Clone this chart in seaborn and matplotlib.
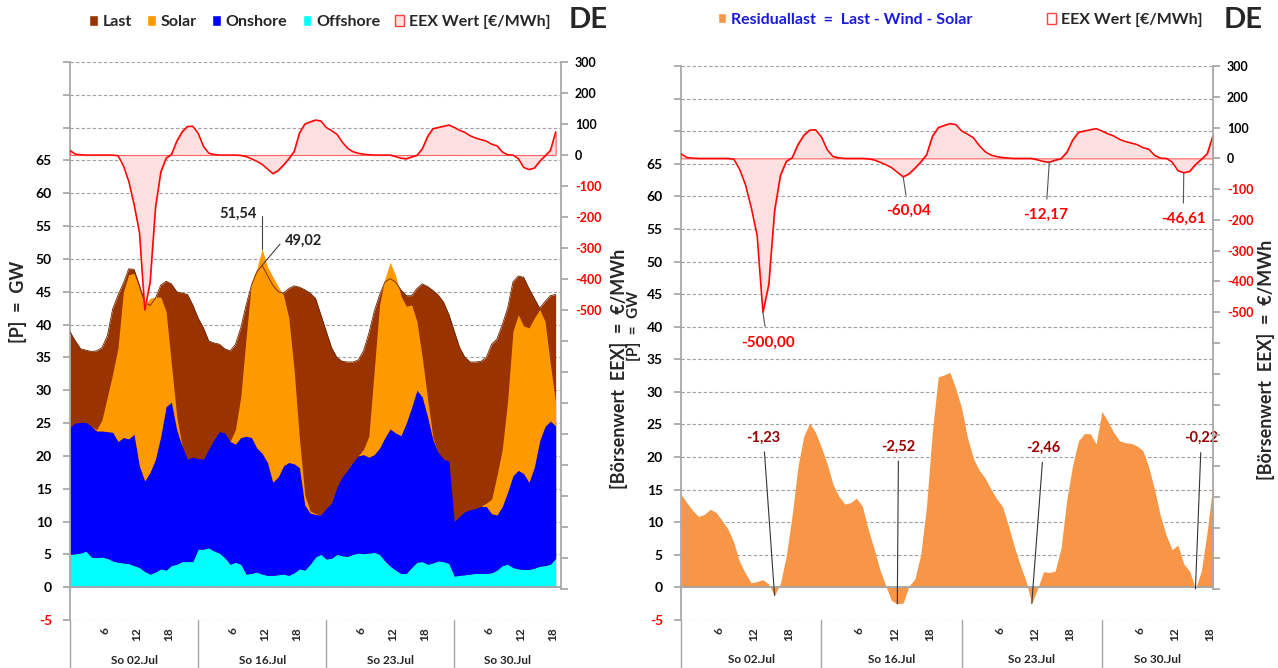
import numpy as np
import pandas as pd
import matplotlib.pyplot as plt
import matplotlib.transforms as mtransforms
from matplotlib.patches import Patch
import seaborn as sns

# hourly values, 4 Sundays (last one only up to ~19h)
day_labels = ['So 02.Jul', 'So 16.Jul', 'So 23.Jul', 'So 30.Jul']
hour_ticks = [6, 12, 18]

offshore = [5.0, 5.1, 5.2, 5.5, 4.6, 4.5, 4.6, 4.4, 4.0, 3.8, 3.7, 3.6, 3.3, 3.0, 2.4, 2.0, 2.3, 2.8, 2.6, 3.3, 3.5, 3.9, 3.9, 3.9,
            5.8, 5.8, 6.0, 5.5, 5.2, 4.5, 3.5, 3.8, 3.5, 2.0, 2.1, 2.3, 2.0, 1.8, 1.8, 1.9, 2.0, 1.8, 2.2, 2.8, 2.6, 3.5, 4.6, 5.0,
            4.3, 4.4, 5.0, 4.8, 4.7, 5.0, 5.2, 5.1, 5.2, 5.3, 5.0, 4.0, 3.2, 2.6, 2.1, 2.1, 3.0, 3.8, 3.9, 3.5, 3.7, 4.0, 3.9, 3.6,
            1.7, 1.8, 1.9, 2.0, 2.1, 2.1, 2.1, 2.2, 2.6, 3.3, 3.5, 3.0, 2.8, 2.7, 2.7, 2.9, 3.2, 3.3, 3.5, 4.4]
onshore = [19.4, 19.9, 19.9, 19.6, 19.9, 19.3, 19.2, 19.3, 19.6, 18.4, 19.1, 19.0, 20.0, 15.5, 13.8, 15.5, 17.2, 20.2, 24.9, 24.9, 20.5, 17.6, 15.6, 15.9,
           13.8, 13.7, 15.0, 17.0, 18.5, 19.0, 18.7, 18.0, 19.3, 21.0, 20.7, 18.9, 18.4, 17.2, 14.2, 14.9, 16.5, 17.2, 16.6, 15.4, 9.9, 7.8, 6.5, 6.0,
           7.7, 8.4, 10.2, 12.0, 13.1, 14.0, 14.8, 15.1, 14.6, 14.9, 16.2, 18.8, 20.9, 20.9, 21.0, 22.9, 24.4, 26.2, 25.1, 22.5, 18.8, 16.5, 15.6, 15.6,
           8.3, 9.0, 9.6, 9.8, 9.9, 10.2, 10.2, 9.0, 8.4, 9.0, 11.0, 14.0, 15.0, 14.6, 13.3, 15.4, 19.1, 21.2, 21.8, 20.2]
solar = [0, 0, 0, 0, 0, 0.2, 1.7, 5.3, 8.9, 14.3, 22.2, 25.0, 24.5, 27.0, 26.8, 26.5, 24.7, 21.2, 14.5, 5.8, 2.0, 0, 0, 0,
         0, 0, 0, 0, 0, 0, 0, 2.2, 6.2, 15.0, 23.7, 27.3, 31.14, 29.8, 31.3, 29.0, 26.0, 22.0, 14.2, 4.3, 1.5, 0.3, 0.1, 0,
         0, 0, 0, 0, 0, 0, 0, 0.8, 3.2, 12.8, 21.8, 24.2, 25.4, 24.0, 21.3, 17.8, 15.6, 10.5, 6.0, 2.7, 0.3, 0, 0, 0,
         0, 0, 0, 0, 0, 0, 0.5, 2.2, 6.0, 8.7, 13.9, 22.0, 23.7, 22.5, 23.5, 22.7, 20.0, 16.0, 8.7, 3.4]
last = [38.9, 37.5, 36.3, 36.1, 35.9, 36.0, 36.5, 38.3, 42.4, 44.5, 46.3, 48.5, 48.4, 46.0, 43.4, 42.9, 44.0, 46.0, 46.6, 46.2, 45.0, 44.8, 44.6, 43.0,
        41.0, 39.5, 37.5, 37.2, 37.0, 36.3, 36.0, 37.0, 39.5, 43.0, 46.0, 48.0, 49.02, 47.5, 46.0, 45.0, 44.8, 45.5, 45.9, 45.7, 45.3, 44.8, 44.0, 41.5,
        39.0, 36.5, 35.0, 34.4, 34.3, 34.3, 34.6, 36.0, 38.7, 42.0, 44.5, 46.5, 47.0, 46.5, 45.3, 44.4, 44.4, 45.5, 46.2, 45.8, 45.2, 44.5, 43.4, 41.5,
        39.0, 36.5, 35.0, 34.3, 34.3, 34.4, 35.0, 37.0, 37.8, 40.0, 42.5, 46.5, 47.4, 47.2, 45.5, 44.0, 42.5, 43.5, 44.4, 44.6]
residual = [14.3, 13.0, 11.8, 10.9, 11.2, 12.0, 11.5, 10.3, 9.0, 7.0, 4.0, 2.2, 0.7, 0.9, 1.2, 0.5, -1.23, 0.6, 4.8, 11.0, 18.5, 23.2, 25.2, 23.8,
            21.5, 19.0, 15.8, 14.0, 12.8, 13.0, 13.7, 12.5, 9.0, 6.0, 2.8, 0.3, -2.0, -2.52, -2.4, 0.2, 1.3, 5.0, 12.5, 24.0, 32.3, 32.6, 33.0, 30.5,
            27.5, 23.0, 19.8, 18.0, 16.8, 15.1, 13.6, 12.4, 9.5, 6.3, 3.5, 1.0, -2.46, -0.2, 2.4, 2.3, 2.5, 6.0, 13.5, 18.8, 22.5, 23.6, 23.6, 22.0,
            27.0, 25.5, 23.8, 22.5, 22.2, 22.1, 21.7, 21.0, 18.5, 15.0, 11.0, 8.0, 5.8, 6.5, 3.6, 2.5, -0.22, 2.5, 8.5, 16.0]
price = [15, 3, 1, 0, 0, 0, 0, 0, 0, -2, -35, -85, -160, -250, -500, -410, -170, -55, -10, 2, 45, 75, 92, 93,
         70, 28, 6, 2, 0, 0, 0, 0, -1, -5, -12, -20, -30, -45, -60.04, -50, -32, -12, 12, 72, 100, 107, 113, 110,
         89, 79, 67, 42, 22, 11, 6, 3, 1, 0, 0, 0, 0, -5, -10, -12.17, -6, -1, 20, 60, 85, 89, 93, 97,
         89, 80, 73, 62, 55, 50, 45, 35, 30, 10, 1, 0, -12, -40, -46.61, -42, -20, -3, 15, 75]

# which points get a value label: (index, text x, text y)
peak_notes = [(36, 35.0, 56.9, 'right'), (36, 40.3, 52.7, 'left')]
res_notes = [(16, 14.1, 23.0), (37, 37.2, 21.6), (60, 62.0, 21.4), (88, 89.0, 22.9)]
price_notes = [(14, 14.8, -598), (38, 38.9, -171), (63, 62.4, -184), (86, 85.9, -197)]

df = pd.DataFrame({'Offshore': offshore, 'Onshore': onshore, 'Solar': solar,
                   'Last': last, 'Residual': residual, 'Preis': price})
df['hour'] = np.arange(len(df))
top_ee = df['Offshore'] + df['Onshore'] + df['Solar']

c_last, c_solar, c_on, c_off = '#993300', '#ff9900', '#0000ff', '#00ffff'
c_res, c_pfill, c_pline = '#f79646', '#ffe0e0', '#ff0000'
grey = '#a6a6a6'

sns.set_theme(style='white')
plt.rcParams['font.family'] = ['Lato', 'DejaVu Sans']
plt.rcParams['font.weight'] = 'bold'

fig = plt.figure(figsize=(12.78, 6.68), dpi=100)
axL = fig.add_axes([70 / 1278, 1 - 620 / 668, 491 / 1278, 558 / 668])
axR = fig.add_axes([681 / 1278, 1 - 620 / 668, 532 / 1278, 554 / 668])


def fmt(v):
    return f'{v:.2f}'.replace('.', ',')


def setup_gw(ax, n_x):
    ax.set_xlim(0, n_x)
    ax.set_ylim(-5, 80)
    yt = np.arange(-5, 85, 5)
    ax.set_yticks(yt)
    ax.set_yticklabels([str(v) if v <= 65 else '' for v in yt])
    for lab, v in zip(ax.get_yticklabels(), yt):
        lab.set_color('red' if v < 0 else 'black')
    ax.set_axisbelow(True)
    ax.grid(axis='y', color='#a0a0a0', linestyle=(0, (3, 2)), linewidth=0.8)
    ax.grid(axis='x', visible=False)
    for s in ['top', 'right', 'bottom']:
        ax.spines[s].set_visible(False)
    ax.spines['left'].set_color(grey)
    ax.axhline(0, color=grey, lw=1.3, zorder=5)
    ax.tick_params(axis='y', left=True, length=5, color=grey, labelsize=10, pad=8)
    # hour ticks
    n_days = len(day_labels)
    pos = [d * 24 + h + 0.5 for d in range(n_days) for h in hour_ticks]
    ax.set_xticks(pos)
    ax.set_xticklabels([str(h) for d in range(n_days) for h in hour_ticks],
                       rotation=90, fontsize=8.5)
    ax.tick_params(axis='x', length=0, pad=5)
    trans = mtransforms.blended_transform_factory(ax.transData, ax.transAxes)
    for d, lab in enumerate(day_labels):
        start, end = d * 24, min((d + 1) * 24, n_x)
        ax.plot([start, start], [0, -0.09], transform=trans, color=grey,
                lw=1, clip_on=False)
        ax.text((start + end) / 2, -0.072, lab, transform=trans, ha='center',
                va='center', fontsize=8.5)


def setup_price(tw):
    tw.set_ylim(-1500, 300)
    pt = np.arange(-1400, 400, 100)
    tw.set_yticks(pt)
    tw.set_yticklabels([str(v) if v >= -500 else '' for v in pt])
    for lab, v in zip(tw.get_yticklabels(), pt):
        lab.set_color('red' if v < 0 else 'black')
    tw.grid(False)
    for s in ['top', 'left', 'bottom']:
        tw.spines[s].set_visible(False)
    tw.spines['right'].set_color(grey)
    tw.spines['right'].set_bounds(-1400, 300)
    tw.tick_params(axis='y', right=True, length=5, color=grey, labelsize=9, pad=5)


def draw_price(tw):
    tw.fill_between(df['hour'], df['Preis'], 0, facecolor=c_pfill,
                    edgecolor='#ff6060', lw=0.8)
    sns.lineplot(data=df, x='hour', y='Preis', ax=tw, color=c_pline, lw=1)
    tw.set_xlabel('')


# ---- left panel: load and generation
setup_gw(axL, 92)
axL.fill_between(df['hour'], df['Last'], 0, color=c_last, lw=0, zorder=1)
axL.stackplot(df['hour'], df['Offshore'], df['Onshore'], df['Solar'],
              colors=[c_off, c_on, c_solar], lw=0, zorder=2)
sns.lineplot(data=df, x='hour', y='Last', ax=axL, color='#6b2400', lw=0.6, zorder=3)
axL.set_xlabel('')
axL.set_ylabel('[P]  =  GW', fontsize=13, fontweight='bold')
axL.yaxis.set_label_coords(-0.088, 0.57)

i, tx, ty, ha = peak_notes[0]
axL.annotate(fmt(top_ee[i]), xy=(i, top_ee[i]), xytext=(tx, ty), ha=ha, va='center',
             fontsize=10.5, color='#222222',
             arrowprops=dict(arrowstyle='-', color='#444444', lw=0.8,
                             connectionstyle='angle,angleA=0,angleB=90,rad=0',
                             shrinkA=2, shrinkB=0), zorder=6)
i, tx, ty, ha = peak_notes[1]
axL.annotate(fmt(last[i]), xy=(i, last[i]), xytext=(tx, ty), ha=ha, va='center',
             fontsize=10.5, color='#222222',
             arrowprops=dict(arrowstyle='-', color='#444444', lw=0.8,
                             connectionstyle='angle,angleA=0,angleB=50,rad=0',
                             shrinkA=2, shrinkB=0), zorder=6)

twL = axL.twinx()
setup_price(twL)
draw_price(twL)
twL.set_ylabel('[Börsenwert  EEX]  =  €/MWh', fontsize=13, fontweight='bold')
twL.yaxis.set_label_coords(1.1, 0.45)

# ---- right panel: residual load
setup_gw(axR, 91)
axR.fill_between(df['hour'], df['Residual'], 0, color=c_res, lw=0, zorder=1)
axR.set_ylabel('[P]  =  GW', fontsize=11, fontweight='bold')
axR.yaxis.set_label_coords(-0.075, 0.53)
for i, tx, ty in res_notes:
    axR.annotate(fmt(residual[i]), xy=(i, residual[i]), xytext=(tx, ty),
                 ha='center', va='center', fontsize=10.5, color='#990000',
                 arrowprops=dict(arrowstyle='-', color='#333333', lw=0.8,
                                 shrinkA=3, shrinkB=0), zorder=6)

twR = axR.twinx()
setup_price(twR)
draw_price(twR)
twR.set_ylabel('[Börsenwert  EEX]  =  €/MWh', fontsize=13, fontweight='bold')
twR.yaxis.set_label_coords(1.083, 0.47)
for i, tx, ty in price_notes:
    twR.annotate(fmt(price[i]), xy=(i, price[i]), xytext=(tx, ty),
                 ha='center', va='center', fontsize=11, color='#ff0000',
                 arrowprops=dict(arrowstyle='-', color='#555555', lw=0.8,
                                 shrinkA=4, shrinkB=0), zorder=6)

# ---- legends
leg_kw = dict(frameon=False, fontsize=11.5, handlelength=0.55, handleheight=0.6,
              handletextpad=0.3)
h_left = [Patch(facecolor=c_last, label='Last'),
          Patch(facecolor=c_solar, label='Solar'),
          Patch(facecolor=c_on, label='Onshore'),
          Patch(facecolor=c_off, label='Offshore'),
          Patch(facecolor=c_pfill, edgecolor='#ff4040', label='EEX Wert [€/MWh]')]
fig.legend(handles=h_left, loc='center', bbox_to_anchor=(320 / 1278, 1 - 22 / 668),
           ncol=5, columnspacing=0.95, **leg_kw)
fig.legend(handles=[Patch(facecolor=c_res, label='Residuallast  =  Last - Wind - Solar')],
           loc='center', bbox_to_anchor=(845 / 1278, 1 - 20 / 668), labelcolor='#1a1ad8',
           **leg_kw)
fig.legend(handles=[Patch(facecolor='white', edgecolor='#ff4040', label='EEX Wert [€/MWh]')],
           loc='center', bbox_to_anchor=(1125 / 1278, 1 - 20 / 668), **leg_kw)
fig.text(588 / 1278, 1 - 20 / 668, 'DE', ha='center', va='center', fontsize=21, fontweight='bold')
fig.text(1243 / 1278, 1 - 20 / 668, 'DE', ha='center', va='center', fontsize=21, fontweight='bold')

fig.savefig('out.png', dpi=100)
